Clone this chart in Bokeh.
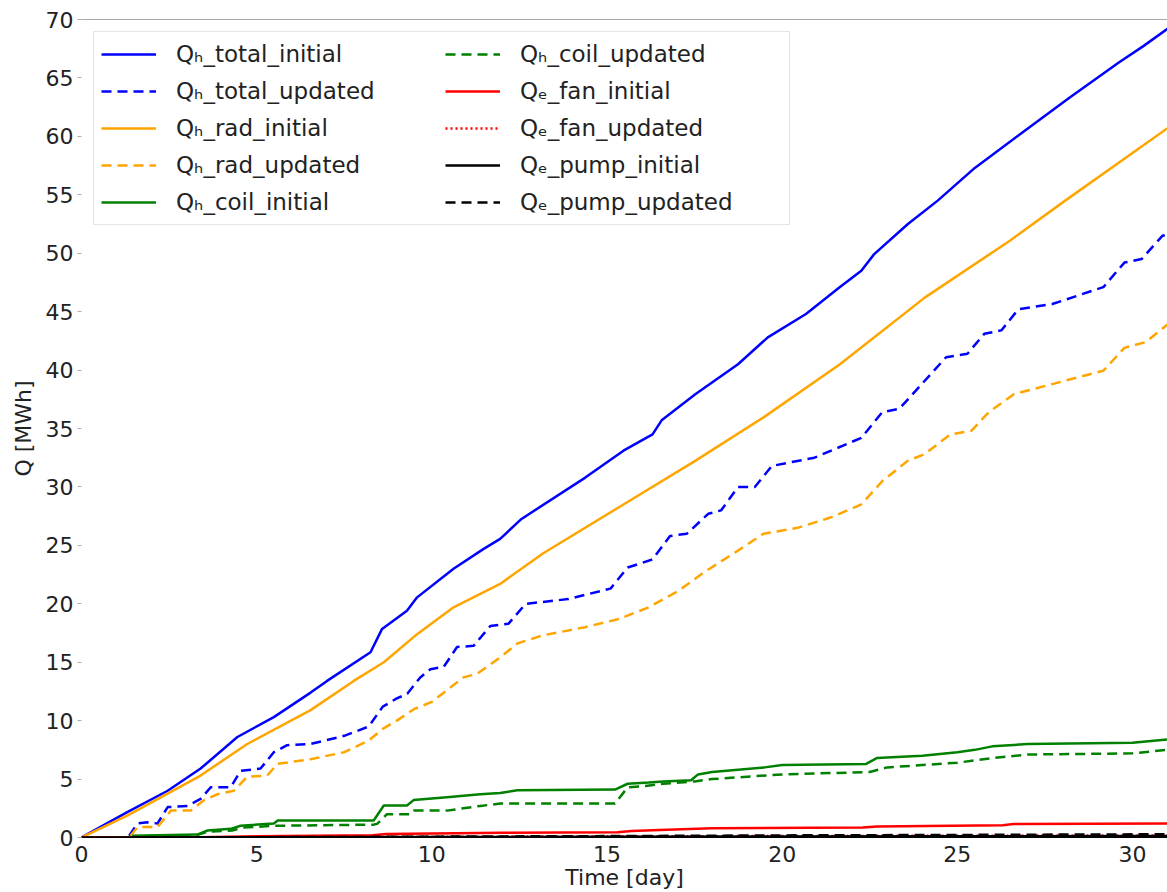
from bokeh.plotting import figure
from bokeh.models import (Range1d, SingleIntervalTicker, Legend, LegendItem, Span)
from bokeh.embed import file_html
from bokeh.resources import INLINE

# ---- data ----
total_init_day = [0, 1.32, 2.46, 3.4, 4.45, 5.49, 6.54, 7.01, 8.25, 8.58,
                  9.29, 9.58, 10.62, 11.48, 11.95, 12.56, 14.38, 15.47, 16.3, 16.56,
                  17.53, 18.74, 19.59, 20.68, 21.65, 22.26, 22.62, 23.59, 24.44, 25.5,
                  26.8, 28.2, 29.6, 30.3, 31]
total_init_q = [0, 2.2, 4.0, 5.9, 8.6, 10.3, 12.4, 13.4, 15.85, 17.85,
                19.4, 20.55, 23.0, 24.7, 25.55, 27.26, 30.8, 33.1, 34.5, 35.7,
                37.95, 40.5, 42.8, 44.8, 47.1, 48.5, 49.9, 52.5, 54.5, 57.3,
                60.2, 63.3, 66.3, 67.7, 69.2]

total_upd_day = [1.36, 1.6, 1.89, 2.17, 2.46, 3.03, 3.4, 3.69, 4.26, 4.54,
                 5.11, 5.49, 5.87, 6.54, 7.5, 8.2, 8.6, 9.0, 9.3, 9.67,
                 9.96, 10.34, 10.72, 11.19, 11.67, 12.19, 12.68, 13.89, 15.1, 15.59,
                 16.3, 16.8, 17.28, 17.89, 18.26, 18.74, 19.22, 19.71, 20.92, 22.26,
                 22.86, 23.35, 24.68, 25.29, 25.77, 26.26, 26.74, 27.71, 29.17, 29.77,
                 30.26, 30.86, 31]
total_upd_q = [0.15, 1.2, 1.3, 1.2, 2.6, 2.7, 3.3, 4.3, 4.3, 5.7,
               5.9, 7.3, 7.9, 8.0, 8.7, 9.5, 11.2, 11.9, 12.3, 13.7,
               14.4, 14.6, 16.3, 16.4, 18.1, 18.3, 20.0, 20.4, 21.3, 23.1,
               23.8, 25.8, 26.0, 27.7, 28.0, 30.0, 30.0, 31.8, 32.5, 34.2,
               36.4, 36.7, 41.1, 41.4, 43.1, 43.4, 45.2, 45.65, 47.1, 49.2,
               49.5, 51.5, 51.6]

rad_init_day = [0, 1.32, 3.4, 4.73, 6.54, 7.77, 8.63, 9.58, 10.62, 11.95,
                13.17, 15.47, 17.53, 19.47, 21.65, 24.07, 26.5, 28.08, 31]
rad_init_q = [0, 1.9, 5.3, 8.0, 10.9, 13.4, 15.0, 17.4, 19.7, 21.7,
              24.3, 28.5, 32.25, 35.95, 40.5, 46.2, 51.07, 54.5, 60.7]

rad_upd_day = [1.4, 1.6, 2.17, 2.55, 3.12, 3.5, 3.88, 4.35, 4.73, 5.3,
               5.59, 6.54, 7.5, 8.2, 8.6, 9.0, 9.5, 10.0, 10.9, 11.29,
               11.95, 12.44, 13.17, 14.38, 15.34, 16.19, 17.04, 17.77, 18.74, 19.47,
               20.44, 21.4, 22.26, 22.86, 23.59, 24.07, 24.8, 25.4, 25.9, 26.62,
               27.71, 29.17, 29.77, 30.38, 31]
rad_upd_q = [0.15, 0.9, 0.9, 2.3, 2.3, 3.2, 3.7, 4.0, 5.2, 5.3,
             6.3, 6.7, 7.3, 8.3, 9.3, 10.0, 11.0, 11.6, 13.7, 14.0,
             15.4, 16.6, 17.3, 18.0, 18.7, 19.7, 21.1, 22.7, 24.55, 26.0,
             26.5, 27.4, 28.5, 30.5, 32.25, 32.8, 34.5, 34.8, 36.4, 37.95,
             38.8, 39.95, 41.9, 42.4, 43.9]

coil_init_day = [1.45, 3.3, 3.6, 4.26, 4.54, 5.49, 5.6, 8.34, 8.63, 9.29,
                 9.48, 10.43, 11.38, 11.95, 12.44, 15.23, 15.59, 16.19, 16.6, 17.4,
                 17.6, 18.0, 19.5, 20.0, 22.4, 22.7, 24.0, 25.0, 25.5, 26.0,
                 27.0, 30.0, 31]
coil_init_q = [0.15, 0.25, 0.6, 0.74, 1.0, 1.2, 1.45, 1.45, 2.74, 2.74,
               3.2, 3.45, 3.7, 3.8, 4.05, 4.1, 4.6, 4.7, 4.8, 4.9,
               5.4, 5.6, 6.0, 6.2, 6.3, 6.8, 7.0, 7.3, 7.5, 7.8,
               8.0, 8.1, 8.4]

coil_upd_day = [1.45, 3.3, 3.6, 4.3, 4.6, 5.49, 8.34, 8.44, 8.72, 9.39,
                9.48, 10.43, 11.38, 11.95, 15.23, 15.59, 16.1, 16.6, 17.5, 18.0,
                20.0, 22.5, 23.0, 25.0, 26.0, 27.0, 30.0, 31]
coil_upd_q = [0.1, 0.2, 0.5, 0.6, 0.85, 1.0, 1.1, 1.17, 2.0, 2.0,
              2.3, 2.3, 2.7, 2.9, 2.9, 4.3, 4.4, 4.6, 4.8, 5.0,
              5.4, 5.6, 6.0, 6.4, 6.8, 7.1, 7.2, 7.5]

fan_init_day = [0, 3.4, 5, 8.3, 8.7, 12, 15.3, 15.7, 16.5, 18.0, 22.3, 22.7, 26.3, 26.6, 31]
fan_init_q = [0, 0.02, 0.1, 0.2, 0.3, 0.4, 0.45, 0.55, 0.65, 0.8, 0.85, 0.95, 1.05, 1.15, 1.2]

fan_upd_day = [0, 3.4, 8.5, 15.5, 22.5, 31]
fan_upd_q = [0, 0.01, 0.05, 0.1, 0.14, 0.18]

pump_init_day = [0, 5, 10, 15, 20, 25, 31]
pump_init_q = [0, 0.02, 0.04, 0.06, 0.08, 0.1, 0.12]

pump_upd_day = [1.4, 8, 15, 20, 25, 31]
pump_upd_q = [0, 0.05, 0.12, 0.18, 0.22, 0.28]

x_ticks_interval = 5
y_ticks_interval = 5

series = [
    ("Qₕ_total_initial", total_init_day, total_init_q, "blue", "solid"),
    ("Qₕ_total_updated", total_upd_day, total_upd_q, "blue", "10 6"),
    ("Qₕ_rad_initial", rad_init_day, rad_init_q, "orange", "solid"),
    ("Qₕ_rad_updated", rad_upd_day, rad_upd_q, "orange", "10 6"),
    ("Qₕ_coil_initial", coil_init_day, coil_init_q, "green", "solid"),
    ("Qₕ_coil_updated", coil_upd_day, coil_upd_q, "green", "10 6"),
    ("Qₑ_fan_initial", fan_init_day, fan_init_q, "red", "solid"),
    ("Qₑ_fan_updated", fan_upd_day, fan_upd_q, "red", "2 3"),
    ("Qₑ_pump_initial", pump_init_day, pump_init_q, "black", "solid"),
    ("Qₑ_pump_updated", pump_upd_day, pump_upd_q, "black", "10 6"),
]

FONT = "DejaVu Sans"

p = figure(width=1167, height=892, output_backend="svg", toolbar_location=None,
           x_range=Range1d(0, 31), y_range=Range1d(0, 70),
           min_border_left=81, min_border_right=0, min_border_top=19,
           min_border_bottom=55)
p.outline_line_color = None
p.xgrid.visible = False
p.ygrid.visible = False
p.background_fill_color = "white"
p.border_fill_color = "white"

items = []
for label, xs, ys, color, dash in series:
    r = p.line(xs, ys, line_color=color, line_width=2.5, line_dash=dash)
    items.append(LegendItem(label=label, renderers=[r]))

# top frame line
p.add_layout(Span(location=70, dimension="width", line_color="#555555", line_width=1.2))

p.xaxis.ticker = SingleIntervalTicker(interval=x_ticks_interval)
p.yaxis.ticker = SingleIntervalTicker(interval=y_ticks_interval)
p.xaxis.axis_label = "Time [day]"
p.yaxis.axis_label = "Q [MWh]"
for ax in (p.xaxis[0], p.yaxis[0]):
    ax.major_label_text_font = FONT
    ax.major_label_text_font_size = "22px"
    ax.major_label_text_color = "#222222"
    ax.axis_label_text_font = FONT
    ax.axis_label_text_font_size = "22px"
    ax.axis_label_text_font_style = "normal"
    ax.axis_label_text_color = "#222222"
    ax.minor_tick_line_color = None

p.xaxis.axis_line_color = "black"
p.xaxis.axis_line_width = 1
p.xaxis.major_tick_line_color = None
p.xaxis.major_tick_out = 0
p.xaxis.major_label_standoff = 4
p.xaxis.axis_label_standoff = 0

p.yaxis.axis_line_color = None
p.yaxis.major_tick_line_color = "#aaaaaa"
p.yaxis.major_tick_out = 4
p.yaxis.major_tick_in = 0
p.yaxis.major_label_standoff = 4
p.yaxis.axis_label_standoff = 7

legend = Legend(items=items, ncols=2, location="top_left",
                label_text_font=FONT, label_text_font_size="23px",
                label_text_color="#222222",
                glyph_width=55, glyph_height=30, label_height=30,
                label_standoff=20, spacing=7, padding=7, margin=12,
                label_width=262,
                border_line_color="#cccccc", border_line_width=1,
                background_fill_color="white", background_fill_alpha=0.8)
p.add_layout(legend)

open("out.html", "w").write(file_html(p, INLINE))
